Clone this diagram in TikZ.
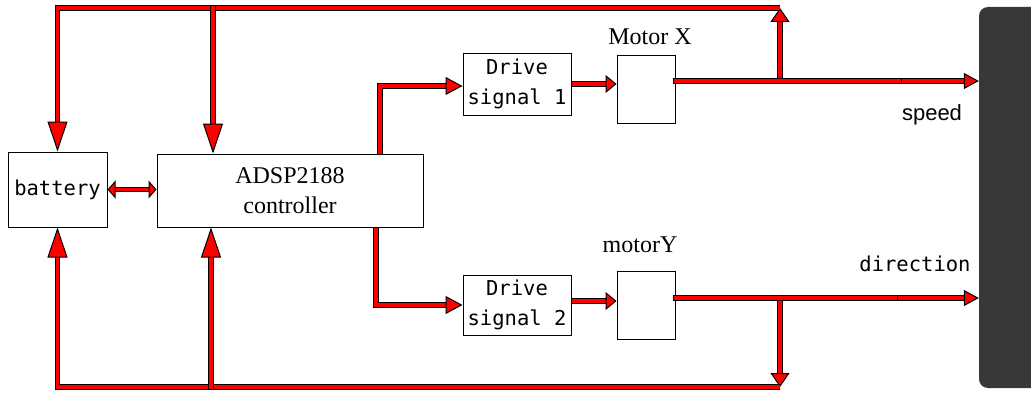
\documentclass[tikz,border=0pt]{standalone}
\usepackage{fontspec}
\setmainfont{Liberation Serif}
\setsansfont{Liberation Sans}
\setmonofont{DejaVu Sans Mono}
\usetikzlibrary{arrows.meta, positioning, calc}

\begin{document}
\begin{tikzpicture}[
    x=1pt, y=1pt,
    block/.style={rectangle, draw=black, line width=1pt, fill=white, inner sep=0pt, align=center},
    monotxt/.style={font=\ttfamily\fontsize{20.5}{30}\selectfont},
    serif/.style={font=\fontsize{24}{30}\selectfont, inner sep=0pt},
    wire/.style={draw=black, double=red, double distance=3.5pt, line width=1.1pt},
    tipbig/.style={-{Triangle[length=30pt, width=20pt, fill=red, line width=1pt 0 0]}},
    tipmid/.style={-{Triangle[length=17pt, width=18pt, fill=red, line width=1pt 0 0]}},
    tipsmall/.style={-{Triangle[length=11pt, width=18pt, fill=red, line width=1pt 0 0]}},
    tipout/.style={-{Triangle[length=15pt, width=16pt, fill=red, line width=1pt 0 0]}},
    tipjoin/.style={-{Triangle[length=14pt, width=19pt, fill=red, line width=1pt 0 0]}},
    tipboth/.style={{Triangle[length=8pt, width=18pt, fill=red, line width=1pt 0 0]}-{Triangle[length=8pt, width=18pt, fill=red, line width=1pt 0 0]}},
    panel/.style={rectangle, fill=black!78, rounded corners=9pt, minimum width=90pt, minimum height=381pt, inner sep=0pt}
]
    \path[fill=white, use as bounding box] (0,0) rectangle (1031,392);
    \node[panel] (pnl) at (1024,194.5) {};
    \node[block, monotxt, minimum width=99pt, minimum height=75pt] (bat) at (57.5,202.5) {battery};
    \node[block, serif, minimum width=266pt, minimum height=73pt] (ctrl) at (290,201.5) {ADSP2188\\controller};
    \node[block, monotxt, minimum width=108pt, minimum height=62pt] (drv1) at (517,308) {Drive\\signal 1};
    \node[block, monotxt, minimum width=108pt, minimum height=60pt] (drv2) at (517,87) {Drive\\signal 2};
    \node[block, minimum width=58pt, minimum height=68pt] (mx) at (646,303) {};
    \node[block, minimum width=58pt, minimum height=68pt] (my) at (646,87) {};
    \node[serif, above=10pt of mx, xshift=4pt] (mxl) {Motor X};
    \node[serif, above=18pt of my, xshift=-6pt] (myl) {motorY};
    \node[font=\sffamily\fontsize{22}{26}\selectfont] (spdl) at (932,277) {speed};
    \node[monotxt] (dirl) at (915,128) {direction};

    \coordinate (tb) at (780,384);
    \coordinate (bb) at (780,5);
    \coordinate (spd) at ([yshift=8pt]mx.east);
    \coordinate (dir) at ([yshift=7pt]my.east);
    \coordinate (sj) at (899,0 |- spd);
    \coordinate (dj) at (895,0 |- dir);
    \coordinate (ct) at ([xshift=-77pt]ctrl.north);
    \coordinate (cb) at ([xshift=-79pt]ctrl.south);

    \draw[wire, tipjoin] (tb |- spd) -- (tb);
    \draw[wire, tipbig] (tb) -- (tb -| bat.north) -- (bat.north);
    \draw[wire, tipbig] ([yshift=2pt]tb -| ct) -- (ct);
    \draw[wire, tipout] (sj) -- (sj -| pnl.west);
    \draw[wire, line cap=rect] (spd) -- (sj);

    \draw[wire, tipjoin] (bb |- dir) -- (bb);
    \draw[wire, tipbig] (bb) -- (bb -| bat.south) -- (bat.south);
    \draw[wire, tipbig] ([yshift=-2pt]bb -| cb) -- (cb);
    \draw[wire, tipout] (dj) -- (dj -| pnl.west);
    \draw[wire, line cap=rect] (dir) -- (dj);

    \draw[wire, tipboth] (bat.east) -- (bat.east -| ctrl.west);
    \draw[wire, tipmid] ([xshift=90pt]ctrl.north) |- ([yshift=-2pt]drv1.west);
    \draw[wire, tipsmall] (drv1.east) -- (drv1.east -| mx.west);
    \draw[wire, tipmid] ([xshift=86pt]ctrl.south) |- (drv2.west);
    \draw[wire, tipsmall] ([yshift=4pt]drv2.east) -- ([yshift=4pt]drv2.east -| my.west);
\end{tikzpicture}
\end{document}
